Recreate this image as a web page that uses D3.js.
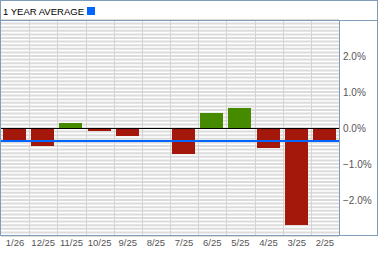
<!DOCTYPE html>
<html><head><meta charset="utf-8">
<script src="https://cdn.jsdelivr.net/npm/d3@7"></script>
<style>body{margin:0;background:#fff}svg{display:block}</style>
</head><body>
<svg id="c" width="379" height="255"></svg>
<script>
const categories = ["1/26","12/25","11/25","10/25","9/25","8/25","7/25","6/25","5/25","4/25","3/25","2/25"];
const values = [-0.33,-0.49,0.14,-0.08,-0.22,0,-0.72,0.43,0.55,-0.55,-2.69,-0.33];
const average = -0.36;
const yTicks = [2,1,0,-1,-2];
const title = "1 YEAR AVERAGE";

const svg = d3.select("#c");
const L = 1, R = 339, T = 20, B = 236;
const x = d3.scaleBand().domain(categories).range([L, R]).padding(0);
const y = d3.scaleLinear().domain([-3, 3]).range([B, T]);
const border = "#7f9db9";

// horizontal stripes
const minor = d3.range(-30, 31).map(d => d / 10);
svg.append("g").selectAll("line").data(minor).join("line")
  .attr("x1", L).attr("x2", R)
  .attr("y1", d => y(d)).attr("y2", d => y(d))
  .attr("stroke", "#dcdcdc").attr("stroke-width", 2);
// vertical grid
svg.append("g").selectAll("line").data(categories.slice(1)).join("line")
  .attr("x1", d => Math.round(x(d)) + 0.5).attr("x2", d => Math.round(x(d)) + 0.5)
  .attr("y1", T).attr("y2", B)
  .attr("stroke", "#d4d4d4").attr("stroke-width", 1);

// bars
const step = x.step();
svg.append("g").selectAll("rect").data(values).join("rect")
  .attr("x", (d, i) => Math.round(x(categories[i]) + step * 0.075))
  .attr("width", Math.round(step * 0.81))
  .attr("y", d => Math.round(y(Math.max(0, d))))
  .attr("height", d => Math.round(Math.abs(y(d) - y(0))))
  .attr("fill", d => d >= 0 ? "#468a00" : "#a3180a");

// zero line
svg.append("line").attr("x1", L).attr("x2", R)
  .attr("y1", Math.round(y(0)) + 0.5).attr("y2", Math.round(y(0)) + 0.5)
  .attr("stroke", "#000").attr("stroke-width", 1);
// average line
svg.append("line").attr("x1", L).attr("x2", R)
  .attr("y1", Math.round(y(average))).attr("y2", Math.round(y(average)))
  .attr("stroke", "#0066ff").attr("stroke-width", 2);

// frame
svg.append("rect").attr("x", 0.5).attr("y", 0.5).attr("width", 377).attr("height", 235)
  .attr("fill", "none").attr("stroke", border);
svg.append("line").attr("x1", 0).attr("x2", 378).attr("y1", 20.5).attr("y2", 20.5).attr("stroke", border);
svg.append("line").attr("x1", R + 0.5).attr("x2", R + 0.5).attr("y1", 20).attr("y2", 236).attr("stroke", border);

// title
svg.append("text").attr("x", 3).attr("y", 14.5).text(title)
  .attr("font-family", "Liberation Sans, Arial, sans-serif").attr("font-size", 9.5).attr("fill", "#000");
svg.append("rect").attr("x", 87).attr("y", 7).attr("width", 8).attr("height", 8).attr("fill", "#0066ff");

// y labels
svg.append("g").selectAll("text").data(yTicks).join("text")
  .attr("x", 343).attr("y", d => y(d) + 3.5)
  .text(d => d3.format(".1f")(d) + "%")
  .attr("font-family", "Liberation Sans, Arial, sans-serif").attr("font-size", 10).attr("fill", "#555");

// x labels
svg.append("g").selectAll("text").data(categories).join("text")
  .attr("x", d => x(d) + step / 2).attr("y", 246)
  .attr("text-anchor", "middle").text(d => d)
  .attr("font-family", "Liberation Sans, Arial, sans-serif").attr("font-size", 9.5).attr("fill", "#555");
</script>
</body></html>
